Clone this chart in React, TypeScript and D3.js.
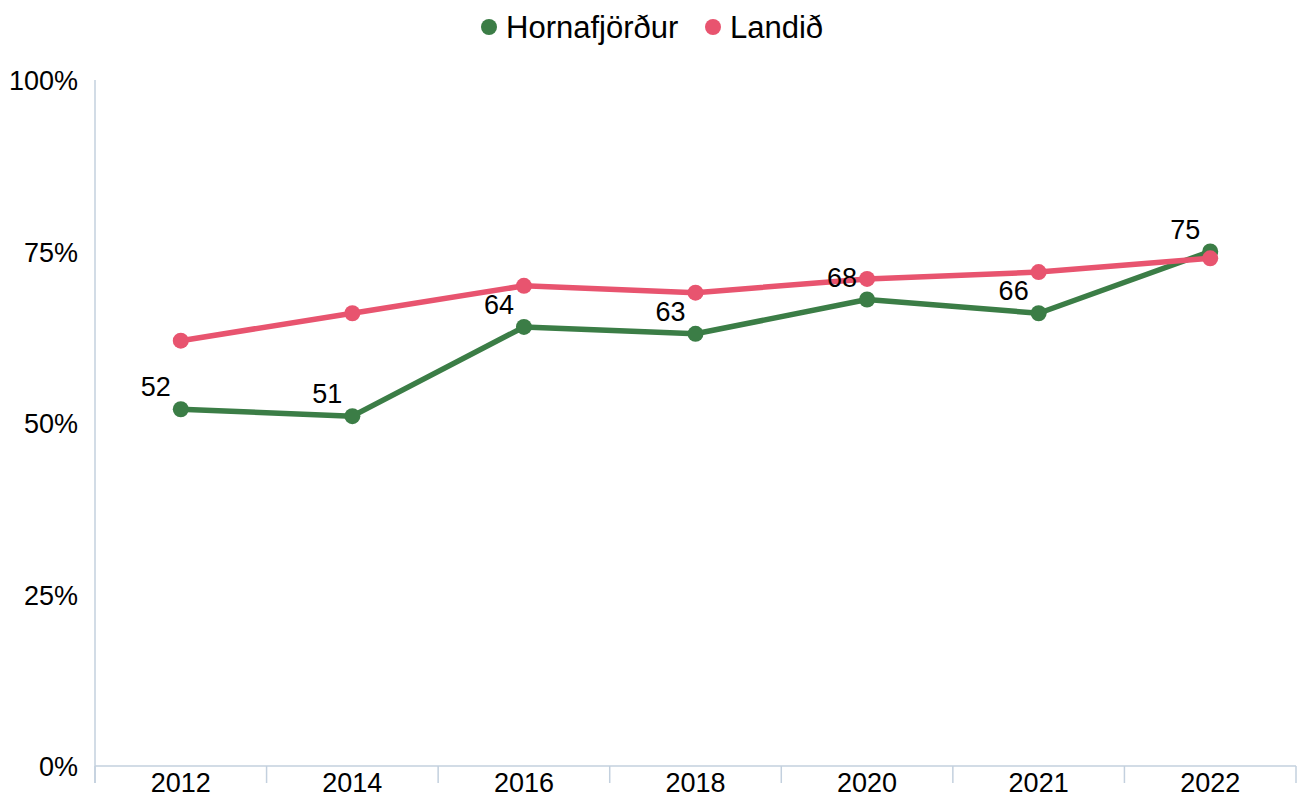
import React from "react";
import * as d3 from "d3";

const years = ["2012", "2014", "2016", "2018", "2020", "2021", "2022"];
const hornafjordur = [52, 51, 64, 63, 68, 66, 75];
const landid = [62, 66, 70, 69, 71, 72, 74];
const yTicks = [0, 25, 50, 75, 100];
const seriesNames = ["Hornafjörður", "Landið"];
const colors = ["#3b7d46", "#e8546f"];

const W = 1304, H = 796;
const M = { left: 95, right: 1296, top: 80, bottom: 766 };
const FONT = "Liberation Sans, Arial, Helvetica, sans-serif";

export default function App() {
  const x = d3.scaleBand<string>().domain(years).range([M.left, M.right]);
  const y = d3.scaleLinear().domain([0, 100]).range([M.bottom, M.top]);
  const cx = (d: string) => (x(d) ?? 0) + x.bandwidth() / 2;
  const line = d3.line<number>().x((_, i) => cx(years[i])).y((v) => y(v));
  const axisColor = "#c3d0de";
  const series = [hornafjordur, landid];
  const boundaries = years.map((d) => x(d) ?? 0).concat([M.right]);

  return (
    <svg width={W} height={H} style={{ display: "block", position: "absolute", left: 0, top: 0 }} fontFamily={FONT}>
      {/* legend */}
      <g>
        <circle cx={489} cy={27} r={8} fill={colors[0]} />
        <text x={506} y={38} fontSize={31} fill="#000">{seriesNames[0]}</text>
        <circle cx={713} cy={27} r={8} fill={colors[1]} />
        <text x={730} y={38} fontSize={31} fill="#000">{seriesNames[1]}</text>
      </g>
      {/* y axis */}
      <line x1={M.left} x2={M.left} y1={M.top} y2={M.bottom + 17} stroke={axisColor} strokeWidth={1.5} />
      {yTicks.map((t) => (
        <text key={t} x={78} y={y(t) + 10} textAnchor="end" fontSize={27} fill="#000">{t}%</text>
      ))}
      {/* x axis */}
      <line x1={M.left} x2={M.right} y1={M.bottom} y2={M.bottom} stroke={axisColor} strokeWidth={1.5} />
      {boundaries.map((b, i) => (
        <line key={i} x1={b} x2={b} y1={M.bottom} y2={M.bottom + 17} stroke={axisColor} strokeWidth={1.5} />
      ))}
      {years.map((d) => (
        <text key={d} x={cx(d)} y={792} textAnchor="middle" fontSize={27} fill="#000">{d}</text>
      ))}
      {/* series: draw Hornafjörður first, Landið on top */}
      {series.map((s, si) => (
        <g key={si}>
          <path d={line(s) ?? ""} fill="none" stroke={colors[si]} strokeWidth={5.5} strokeLinejoin="round" />
          {s.map((v, i) => (
            <circle key={i} cx={cx(years[i])} cy={y(v)} r={8} fill={colors[si]} />
          ))}
        </g>
      ))}
      {/* data labels for Hornafjörður */}
      {hornafjordur.map((v, i) => (
        <text key={i} x={cx(years[i]) - 25} y={y(v) - 13} textAnchor="middle" fontSize={27} fill="#000">{v}</text>
      ))}
    </svg>
  );
}
